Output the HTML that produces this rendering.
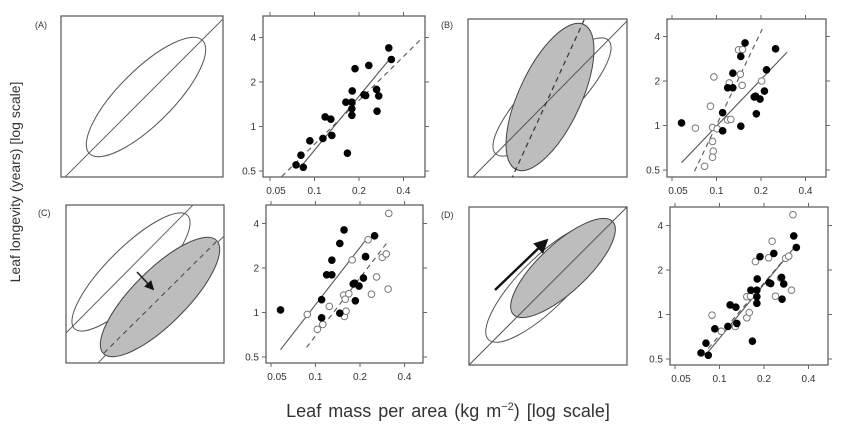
<!DOCTYPE html>
<html><head><meta charset="utf-8">
<style>
html,body{margin:0;padding:0;background:#fff;}
svg{display:block;font-family:"Liberation Sans",sans-serif;}
</style></head>
<body>
<svg id="chart" width="850" height="441" viewBox="0 0 850 441" xmlns="http://www.w3.org/2000/svg">
<defs>
<marker id="ah" markerWidth="6" markerHeight="6" refX="4" refY="3" orient="auto"><path d="M0,0 L6,3 L0,6 z" fill="#111"/></marker>
</defs>
<text x="0" y="0" transform="translate(20,182) rotate(-90)" text-anchor="middle" font-size="14" fill="#333">Leaf longevity (years) [log scale]</text>
<text x="448" y="417" text-anchor="middle" font-size="18" fill="#333" word-spacing="2">Leaf mass per area  (kg m<tspan dy="-7" font-size="11">−2</tspan><tspan dy="7">)  [log scale]</tspan></text>
<text x="35" y="28" font-size="9" fill="#333">(A)</text>
<text x="441" y="28" font-size="9" fill="#333">(B)</text>
<text x="38" y="216" font-size="9" fill="#333">(C)</text>
<text x="441" y="218" font-size="9" fill="#333">(D)</text>

<g>
<clipPath id="ca"><rect x="61" y="16" width="162" height="161"/></clipPath>
<rect x="61" y="16" width="162" height="161" fill="#fff" stroke="#555" stroke-width="1.2"/>
<g clip-path="url(#ca)">
<line x1="61" y1="181" x2="224" y2="18" stroke="#666" stroke-width="1"/>
<ellipse cx="146" cy="97" rx="80" ry="27" transform="rotate(-45 146 97)" fill="none" stroke="#555" stroke-width="1"/>
</g></g>

<g>
<clipPath id="cb"><rect x="468" y="19" width="159" height="158"/></clipPath>
<rect x="468" y="19" width="159" height="158" fill="#fff" stroke="#555" stroke-width="1.2"/>
<g clip-path="url(#cb)">
<ellipse cx="552" cy="97" rx="80" ry="24" transform="rotate(-45 552 97)" fill="none" stroke="#555" stroke-width="1"/>
<ellipse cx="550" cy="97" rx="80" ry="31" transform="rotate(-65 550 97)" fill="#bdbdbd" stroke="#444" stroke-width="1"/>
<line x1="470" y1="180" x2="630" y2="18" stroke="#555" stroke-width="1"/>
<line x1="511" y1="180" x2="585" y2="18" stroke="#333" stroke-width="1.2" stroke-dasharray="5,4"/>
</g></g>

<g>
<clipPath id="cc"><rect x="66" y="205" width="158" height="158"/></clipPath>
<rect x="66" y="205" width="158" height="158" fill="#fff" stroke="#555" stroke-width="1.2"/>
<g clip-path="url(#cc)">
<line x1="64" y1="335" x2="194" y2="204" stroke="#666" stroke-width="1"/>
<ellipse cx="131" cy="272" rx="80" ry="24" transform="rotate(-45 131 272)" fill="none" stroke="#555" stroke-width="1"/>
<line x1="95" y1="366" x2="226" y2="234" stroke="#666" stroke-width="1"/>
<ellipse cx="160" cy="297" rx="80" ry="27" transform="rotate(-45 160 297)" fill="#bdbdbd" stroke="#444" stroke-width="1"/>
<line x1="104" y1="353" x2="217" y2="241" stroke="#444" stroke-width="1" stroke-dasharray="5,4"/>
<line x1="137" y1="272" x2="152" y2="288" stroke="#222" stroke-width="1.6" marker-end="url(#ah)"/>
</g></g>

<g>
<clipPath id="cd"><rect x="469" y="207" width="158" height="158"/></clipPath>
<rect x="469" y="207" width="158" height="158" fill="#fff" stroke="#555" stroke-width="1.2"/>
<g clip-path="url(#cd)">
<ellipse cx="545" cy="283" rx="80" ry="25" transform="rotate(-45 545 283)" fill="none" stroke="#555" stroke-width="1"/>
<ellipse cx="563" cy="268" rx="68" ry="24" transform="rotate(-43 563 268)" fill="#bdbdbd" stroke="#444" stroke-width="1"/>
<line x1="468" y1="366" x2="628" y2="206" stroke="#555" stroke-width="1"/>
</g>
<line x1="495" y1="290" x2="545" y2="242" stroke="#111" stroke-width="2.4" marker-end="url(#ah)"/>
</g>
<g id="scatters"></g>
</svg>
<script>
const xTicks = [0.05, 0.1, 0.2, 0.4];
const yTicks = [0.5, 1, 2, 4];
const xTickLabels = ["0.05", "0.1", "0.2", "0.4"];
const yTickLabels = ["0.5", "1", "2", "4"];

const filledAX = [0.075,0.081,0.084,0.093,0.114,0.118,0.129,0.131,0.163,0.167,0.179,0.179,0.179,0.18,0.188,0.216,0.222,0.233,0.263,0.265,0.272,0.318,0.331];
const filledAY = [0.55,0.64,0.53,0.80,0.83,1.16,1.12,0.87,1.46,0.66,1.46,1.19,1.32,1.74,2.46,1.64,1.62,2.59,1.78,1.27,1.61,3.40,2.84];

const filledBX = [0.058,0.110,0.110,0.119,0.129,0.129,0.146,0.146,0.156,0.18,0.184,0.186,0.197,0.211,0.218,0.251];
const filledBY = [1.04,0.92,1.22,1.80,1.80,2.26,0.99,2.93,3.62,1.56,1.58,1.20,1.51,1.71,2.38,3.30];

const openBX = [0.072,0.091,0.096,0.094,0.094,0.095,0.094,0.083,0.101,0.119,0.125,0.122,0.141,0.150,0.149,0.145,0.202];
const openBY = [0.96,1.35,2.13,0.97,0.78,0.67,0.61,0.53,0.95,1.09,1.10,1.94,3.25,3.27,1.87,2.22,2.0];

const openCX = [0.088,0.103,0.112,0.124,0.155,0.157,0.159,0.161,0.168,0.177,0.227,0.218,0.239,0.259,0.283,0.301,0.31,0.313];
const openCY = [0.97,0.77,0.83,1.10,1.31,0.94,1.23,1.02,1.34,2.27,3.11,2.40,1.33,1.74,2.36,2.49,1.44,4.68];

const openDX = [0.089,0.103,0.128,0.153,0.159,0.153,0.162,0.175,0.215,0.227,0.239,0.259,0.28,0.294,0.307,0.314];
const openDY = [0.99,0.77,0.83,0.95,1.03,1.32,1.33,2.28,2.42,3.13,1.33,1.76,2.40,2.48,1.46,4.73];

const lineASolid = [0.084,0.56,0.32,2.83];
const lineADashed = [0.06,0.458,0.54,4.0];
const lineBSolid = [0.058,0.56,0.30,3.13];
const lineBDashed = [0.071,0.49,0.204,4.5];
const lineCSolid = [0.058,0.56,0.224,3.19];
const lineCDashed = [0.087,0.58,0.313,3.07];
const lineDSolid = [0.084,0.56,0.32,2.83];
const lineDDashed = [0.084,0.59,0.303,2.66];

const NS = "http://www.w3.org/2000/svg";
const root = document.getElementById('scatters');
function mk(tag, attrs, parent){ const e=document.createElementNS(NS,tag); for(const k in attrs) e.setAttribute(k,attrs[k]); parent.appendChild(e); return e; }

function panel(id, box, series, lines){
  const step = 44.5;
  const sx = v => box.x05 + Math.log2(v/0.05)*step;
  const sy = v => box.y05 - Math.log2(v/0.5)*step;
  const g = mk('g',{},root);
  
  
  const cp = mk('clipPath',{id:'clip'+id},g);
  mk('rect',{x:box.x,y:box.y,width:box.w,height:box.h},cp);
  const frame = mk('rect',{x:box.x,y:box.y,width:box.w,height:box.h,fill:'#fff',stroke:'#555','stroke-width':1.2},g);
  
  
  xTicks.forEach((t,i)=>{
    const x = sx(t);
    mk('line',{x1:x,y1:box.y,x2:x,y2:box.y-4,stroke:'#666'},g);
    mk('line',{x1:x,y1:box.y+box.h,x2:x,y2:box.y+box.h+4,stroke:'#666'},g);
    const tx = mk('text',{x:x+(i===0?6:0),y:box.y+box.h+17,'text-anchor':'middle','font-size':10,fill:'#333'},g);
    
    
    tx.textContent = xTickLabels[i];
  });
  yTicks.forEach((t,i)=>{
    const y = sy(t);
    mk('line',{x1:box.x,y1:y,x2:box.x-4,y2:y,stroke:'#666'},g);
    mk('line',{x1:box.x+box.w,y1:y,x2:box.x+box.w+4,y2:y,stroke:'#666'},g);
    const ty = mk('text',{x:box.x-7,y:y+3.5,'text-anchor':'end','font-size':10,fill:'#333'},g);
    
    
    ty.textContent = yTickLabels[i];
  });
  const inner = mk('g',{'clip-path':'url(#clip'+id+')'},g);
  lines.forEach(l=>{
    const ln = mk('line',{x1:sx(l.d[0]),y1:sy(l.d[1]),x2:sx(l.d[2]),y2:sy(l.d[3]),stroke:'#555','stroke-width':1.1},inner);
    if(l.dash) ln.setAttribute('stroke-dasharray','5,4');
    
    
  });
  series.forEach(s=>{
    s.xs.forEach((xv,i)=>{
      const c = mk('circle',{cx:sx(xv),cy:sy(s.ys[i]),r:3.3,fill:s.open?'#fff':'#000',stroke:s.open?'#777':'#000','stroke-width':1},inner);
      
      
    });
  });
}

panel('a',{x:263,y:16,w:162,h:161,x05:270,y05:171},
  [{xs:filledAX,ys:filledAY,open:false}],
  [{d:lineASolid,dash:false},{d:lineADashed,dash:true}]);
panel('b',{x:667,y:19,w:159,h:158,x05:672,y05:170},
  [{xs:openBX,ys:openBY,open:true},{xs:filledBX,ys:filledBY,open:false}],
  [{d:lineBSolid,dash:false},{d:lineBDashed,dash:true}]);
panel('c',{x:266,y:205,w:157,h:158,x05:271,y05:357},
  [{xs:openCX,ys:openCY,open:true},{xs:filledBX,ys:filledBY,open:false}],
  [{d:lineCSolid,dash:false},{d:lineCDashed,dash:true}]);
panel('d',{x:670,y:207,w:158,h:158,x05:675,y05:359},
  [{xs:openDX,ys:openDY,open:true},{xs:filledAX,ys:filledAY,open:false}],
  [{d:lineDSolid,dash:false},{d:lineDDashed,dash:true}]);
</script>
</body></html>
